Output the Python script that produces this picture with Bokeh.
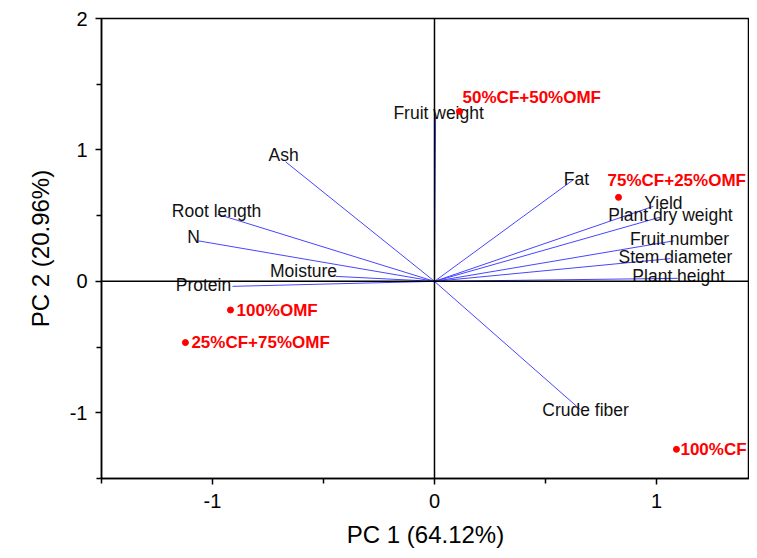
from bokeh.plotting import figure
from bokeh.models import ColumnDataSource, Span, FixedTicker, Range1d
from bokeh.core.properties import value
from bokeh.embed import file_html
from bokeh.resources import INLINE

# Loadings (variables)
var_names = ["Fruit weight", "Fat", "Yield", "Plant dry weight", "Fruit number",
             "Stem diameter", "Plant height", "Crude fiber", "Ash", "Root length",
             "N", "Moisture", "Protein"]
var_pc1 = [0.005, 0.626, 0.986, 1.018, 1.077, 1.063, 1.095, 0.658, -0.671, -0.977, -1.063, -0.446, -0.910]
var_pc2 = [1.250, 0.774, 0.571, 0.489, 0.308, 0.173, 0.023, -0.977, 0.910, 0.511, 0.308, 0.038, -0.038]

# Scores (treatments)
trt_names = ["50%CF+50%OMF", "75%CF+25%OMF", "100%CF", "100%OMF", "25%CF+75%OMF"]
trt_pc1 = [0.113, 0.829, 1.090, -0.919, -1.122]
trt_pc2 = [1.293, 0.639, -1.278, -0.218, -0.466]

x_ticks = [-1, 0, 1]
x_tick_labels = {-1: "-1", 0: "0", 1: "1"}
y_ticks = [-1, 0, 1, 2]
y_tick_labels = {-1: "-1", 0: "0", 1: "1", 2: "2"}

# label placement (styles, screen pixels)
var_dx = [3, 3, 10, 10, 6, 5, 1, 5, -2, -1, -5, -32, -29]
var_dy = [-4, -1, -3, -2, -2, -2, -2, 0, -7, -3, -4, -5, -1]
trt_dx = [3, -11, 4, 6, 6]
trt_dy = [-14, -17, 0, 0, 0]

FONT = "Liberation Sans"

p = figure(width=749, height=550, output_backend="svg", toolbar_location=None,
           x_range=Range1d(-1.5, 1.419), y_range=Range1d(-1.5, 2.0),
           min_border_left=101, min_border_top=18, min_border_bottom=67, min_border_right=0,
           background_fill_color="white", border_fill_color="white")
p.grid.visible = False
p.outline_line_color = "black"
p.outline_line_width = 1.5

p.xaxis.ticker = FixedTicker(ticks=x_ticks, minor_ticks=[-1.5, -0.5, 0.5, 1.5])
p.yaxis.ticker = FixedTicker(ticks=y_ticks, minor_ticks=[-1.5, -0.5, 0.5, 1.5])
p.xaxis.major_label_overrides = x_tick_labels
p.yaxis.major_label_overrides = y_tick_labels
for ax in (p.xaxis[0], p.yaxis[0]):
    ax.axis_line_width = 1.5
    ax.axis_line_color = "black"
    ax.major_tick_line_width = 1.5
    ax.minor_tick_line_width = 1.5
    ax.major_tick_out = 6
    ax.major_tick_in = 0
    ax.minor_tick_out = 5
    ax.minor_tick_in = 0
    ax.major_label_text_font = FONT
    ax.major_label_text_font_size = "20px"
    ax.major_label_text_color = "black"
    ax.axis_label_text_font = FONT
    ax.axis_label_text_font_size = "24px"
    ax.axis_label_text_font_style = "normal"
    ax.axis_label_text_color = "black"
p.xaxis.axis_label = "PC 1 (64.12%)"
p.yaxis.axis_label = "PC 2 (20.96%)"
p.xaxis.major_label_standoff = 9
p.yaxis.major_label_standoff = 8
p.xaxis.axis_label_standoff = 10
p.yaxis.axis_label_standoff = 13

p.add_layout(Span(location=0, dimension="height", line_color="black", line_width=1.5))
p.add_layout(Span(location=0, dimension="width", line_color="black", line_width=1.5))

vsrc = ColumnDataSource(dict(name=var_names, x=var_pc1, y=var_pc2,
                             x0=[0] * len(var_names), y0=[0] * len(var_names),
                             dx=var_dx, dy=var_dy))
p.segment(x0="x0", y0="y0", x1="x", y1="y", source=vsrc, line_color="#4646ff", line_width=1)
p.text(x="x", y="y", text="name", source=vsrc, x_offset="dx", y_offset="dy",
       text_align="center", text_baseline="middle", text_font=value(FONT),
       text_font_size="17.5px", text_color="#111111")

tsrc = ColumnDataSource(dict(name=trt_names, x=trt_pc1, y=trt_pc2, dx=trt_dx, dy=trt_dy))
p.scatter(x="x", y="y", source=tsrc, size=6, color="#ff0000")
p.text(x="x", y="y", text="name", source=tsrc, x_offset="dx", y_offset="dy",
       text_align="left", text_baseline="middle", text_font=value(FONT),
       text_font_size="17px", text_font_style="bold", text_color="#ff0000")

open("out.html", "w").write(file_html(p, INLINE))
